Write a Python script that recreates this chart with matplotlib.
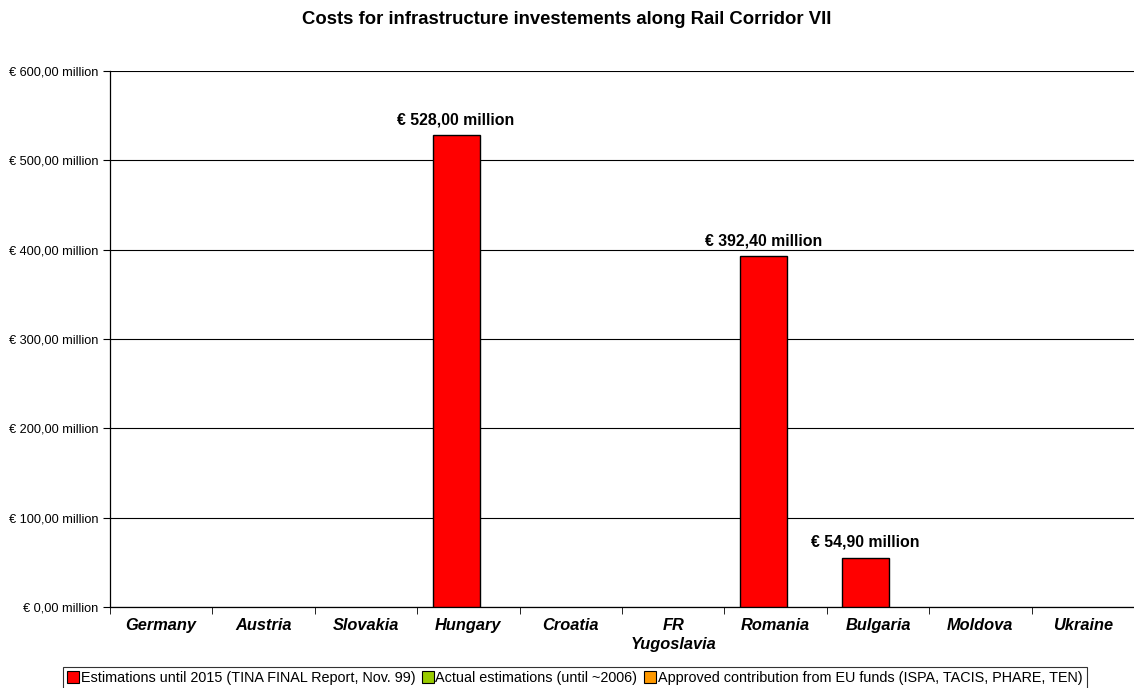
import numpy as np
import matplotlib.pyplot as plt
from matplotlib.lines import Line2D

plt.rcParams['font.family'] = ['Liberation Sans', 'DejaVu Sans']

countries = ['Germany', 'Austria', 'Slovakia', 'Hungary', 'Croatia',
             'FR\nYugoslavia', 'Romania', 'Bulgaria', 'Moldova', 'Ukraine']
tina_2015 = [0, 0, 0, 528.0, 0, 0, 392.4, 54.9, 0, 0]
actual_2006 = [0, 0, 0, 0, 0, 0, 0, 0, 0, 0]
eu_funds = [0, 0, 0, 0, 0, 0, 0, 0, 0, 0]
series_names = ['Estimations until 2015 (TINA FINAL Report, Nov. 99)',
                'Actual estimations (until ~2006)',
                'Approved contribution from EU funds (ISPA, TACIS, PHARE, TEN)']
colors = ['#FF0000', '#99CC00', '#FF9900']

fig = plt.figure(figsize=(11.34, 6.88), dpi=100)
ax = fig.add_axes([110/1134, 1 - 607/688, 1024/1134, 536/688])

x = np.arange(len(countries))
w = 0.46
offsets = [-0.12, 0.2, 0.4]
for vals, col, off in zip([tina_2015, actual_2006, eu_funds], colors, offsets):
    for xi, v in zip(x, vals):
        if v > 0:
            ax.bar(xi + off, v, width=w, color=col, edgecolor='black', linewidth=1, zorder=3)
            ax.text(xi + off, v + 9, '€ {:.2f} million'.format(v).replace('.', ','),
                    ha='center', va='bottom', fontsize=11.4, fontweight='bold')

ax.set_xlim(-0.5, len(countries) - 0.5)
ax.set_ylim(0, 600)
ax.set_yticks(np.arange(0, 601, 100))
ax.set_yticklabels(['€ {:.2f} million'.format(t).replace('.', ',') for t in np.arange(0, 601, 100)],
                   fontsize=9.2)
ax.yaxis.grid(True, color='black', linewidth=0.8, zorder=0)
ax.set_axisbelow(True)

ax.set_xticks(x)
ax.set_xticklabels(countries, fontsize=11.8, fontweight='bold', fontstyle='italic',
                   linespacing=1.35)
ax.tick_params(axis='x', length=0, pad=8)
ax.set_xticks(np.arange(-0.5, len(countries)), minor=True)
ax.tick_params(axis='x', which='minor', length=5, direction='out')
ax.tick_params(axis='y', length=5, direction='out')

for s in ['top', 'right']:
    ax.spines[s].set_visible(False)
ax.spines['left'].set_linewidth(0.9)
ax.spines['bottom'].set_linewidth(0.9)

fig.text(0.5, 1 - 19/688, 'Costs for infrastructure investements along Rail Corridor VII',
         ha='center', va='center', fontsize=13.3, fontweight='bold')

handles = [Line2D([], [], marker='s', linestyle='none', markersize=8,
                  markerfacecolor=c, markeredgecolor='black', markeredgewidth=0.8)
           for c in colors]
leg = fig.legend(handles, series_names, loc='center', bbox_to_anchor=(575/1134, 1 - 678/688),
                 ncol=3, fontsize=10.35, frameon=True, fancybox=False, edgecolor='black',
                 handlelength=0.7, handletextpad=0.2, columnspacing=0.5,
                 borderpad=0.3, borderaxespad=0)
leg.get_frame().set_linewidth(0.8)

fig.savefig('out.png', dpi=100)
